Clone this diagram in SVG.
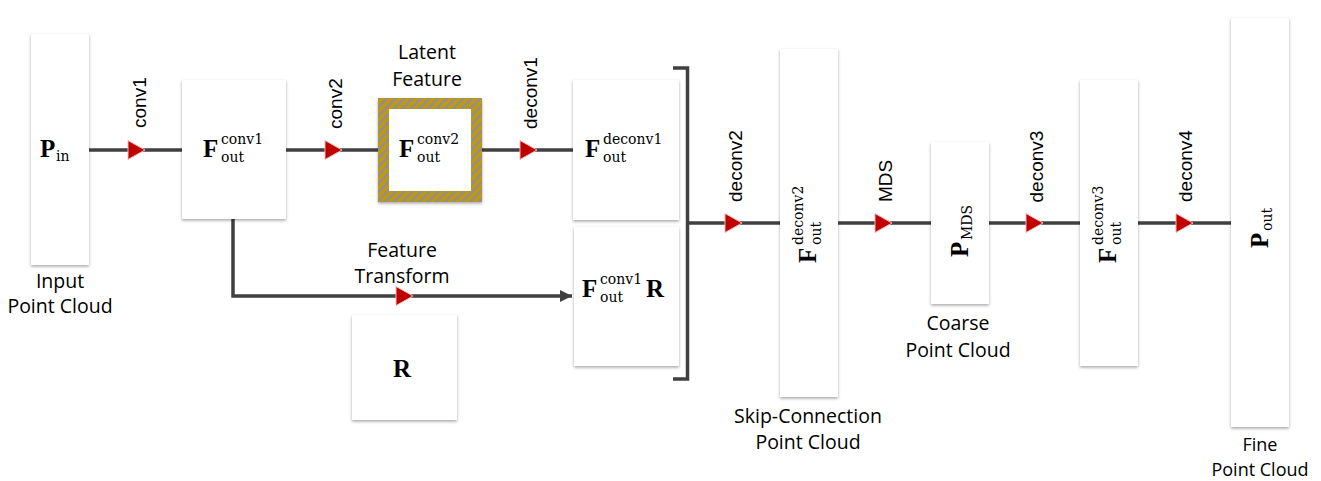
<svg xmlns="http://www.w3.org/2000/svg" xmlns:xlink="http://www.w3.org/1999/xlink" width="1321" height="481" viewBox="0 0 1321 481">
<style>
.box{fill:#fff;filter:url(#sh)}
.ln{fill:none;stroke:#404040;stroke-width:3.5}
.cap{font-family:"Open Sans","Liberation Sans",sans-serif;font-size:19.5px;fill:#000;text-anchor:middle}
.lbl{font-family:"Liberation Sans",Arial,sans-serif;font-size:19px;fill:#000}
.mb{font-family:"Liberation Serif","DejaVu Serif",serif;font-weight:bold;font-size:25px;fill:#000}
.ms{font-family:"DejaVu Serif","Liberation Serif",serif;font-size:14px;fill:#000}
.tri{fill:#c00000;stroke:#f2b8b8;stroke-width:1}
</style>
<defs>
<filter id="sh" x="-20%" y="-20%" width="140%" height="140%">
<feDropShadow dx="0" dy="1.5" stdDeviation="1.5" flood-color="#000" flood-opacity="0.35"/>
</filter>
<pattern id="hatch" patternUnits="userSpaceOnUse" width="6" height="6" patternTransform="rotate(45)">
<rect width="6" height="6" fill="#c4980c"/>
<rect width="2.5" height="6" fill="#8f8f8f"/>
</pattern>
<polygon id="tri" class="tri" points="0,-9.5 17,0 0,9.5"/>
<marker id="ah" markerWidth="12" markerHeight="12" refX="10" refY="5" orient="auto" markerUnits="userSpaceOnUse" viewBox="0 0 10 10">
<path d="M0,0 L10,5 L0,10 Z" fill="#404040"/>
</marker>
</defs>
<rect width="1321" height="481" fill="#fff"/>

<g id="connectors">
<line class="ln" x1="89" y1="150" x2="182" y2="150"/>
<line class="ln" x1="286" y1="150" x2="378" y2="150"/>
<line class="ln" x1="482" y1="150" x2="573" y2="150"/>
<path class="ln" d="M233,219 V296 H572" marker-end="url(#ah)"/>
<path class="ln" d="M673,68 H687.5 V379 H673"/>
<line class="ln" x1="687.5" y1="223" x2="780" y2="223"/>
<line class="ln" x1="838" y1="223" x2="931" y2="223"/>
<line class="ln" x1="989" y1="223" x2="1080" y2="223"/>
<line class="ln" x1="1138" y1="223" x2="1231" y2="223"/>
<use xlink:href="#tri" x="128" y="150"/>
<use xlink:href="#tri" x="325" y="150"/>
<use xlink:href="#tri" x="520" y="150"/>
<use xlink:href="#tri" x="396" y="296"/>
<use xlink:href="#tri" x="725" y="223"/>
<use xlink:href="#tri" x="875" y="223"/>
<use xlink:href="#tri" x="1026" y="223"/>
<use xlink:href="#tri" x="1176" y="223"/>
<text class="lbl" transform="translate(146,128) rotate(-90)">conv1</text>
<text class="lbl" transform="translate(341.5,129) rotate(-90)">conv2</text>
<text class="lbl" transform="translate(536.5,129) rotate(-90)">deconv1</text>
<text class="lbl" transform="translate(742,202) rotate(-90)">deconv2</text>
<text class="lbl" transform="translate(891.5,202) rotate(-90)">MDS</text>
<text class="lbl" transform="translate(1042.5,202.5) rotate(-90)">deconv3</text>
<text class="lbl" transform="translate(1191.5,202) rotate(-90)">deconv4</text>
<text class="cap" x="402" y="257">Feature</text>
<text class="cap" x="402" y="283">Transform</text>
</g>

<g id="node-pin">
<rect class="box" x="31" y="34" width="58" height="231"/>
<text class="mb" x="40" y="157">P</text>
<text class="ms" x="56" y="161">in</text>
<text class="cap" x="60" y="288">Input</text>
<text class="cap" x="60" y="313">Point Cloud</text>
</g>

<g id="node-fconv1">
<rect class="box" x="182" y="80" width="104" height="139"/>
<text class="mb" x="203" y="157">F</text>
<text class="ms" x="221" y="144">conv1</text>
<text class="ms" x="221" y="162">out</text>
</g>

<g id="node-latent">
<rect x="378" y="98" width="104" height="104" fill="url(#hatch)" filter="url(#sh)"/>
<rect x="389" y="109" width="82" height="82" fill="#fff"/>
<text class="mb" x="399" y="157">F</text>
<text class="ms" x="417" y="144">conv2</text>
<text class="ms" x="417" y="162">out</text>
<text class="cap" x="427" y="59">Latent</text>
<text class="cap" x="427" y="86">Feature</text>
</g>

<g id="node-fdeconv1">
<rect class="box" x="573" y="80" width="106" height="140"/>
<text class="mb" x="585" y="157">F</text>
<text class="ms" x="603" y="144">deconv1</text>
<text class="ms" x="603" y="162">out</text>
</g>

<g id="node-fr">
<rect class="box" x="574" y="227" width="105" height="139"/>
<text class="mb" x="582" y="297">F</text>
<text class="ms" x="600" y="284">conv1</text>
<text class="ms" x="600" y="302">out</text>
<text class="mb" x="646" y="297">R</text>
</g>

<g id="node-r">
<rect class="box" x="352" y="315" width="105" height="105"/>
<text class="mb" x="393" y="377">R</text>
</g>

<g id="node-fdeconv2">
<rect class="box" x="780" y="49" width="58" height="348"/>
<g transform="translate(809,223) rotate(-90)">
<text class="mb" x="-40" y="7">F</text>
<text class="ms" x="-22" y="-6">deconv2</text>
<text class="ms" x="-22" y="12">out</text>
</g>
<text class="cap" x="808" y="423">Skip-Connection</text>
<text class="cap" x="808" y="449">Point Cloud</text>
</g>

<g id="node-pmds">
<rect class="box" x="931" y="142" width="58" height="162"/>
<g transform="translate(960,223) rotate(-90)">
<text class="mb" x="-34" y="8">P</text>
<text class="ms" x="-17" y="12" font-size="15">MDS</text>
</g>
<text class="cap" x="958" y="330">Coarse</text>
<text class="cap" x="958" y="357">Point Cloud</text>
</g>

<g id="node-fdeconv3">
<rect class="box" x="1080" y="80" width="58" height="286"/>
<g transform="translate(1109,223) rotate(-90)">
<text class="mb" x="-40" y="7">F</text>
<text class="ms" x="-22" y="-6">deconv3</text>
<text class="ms" x="-22" y="12">out</text>
</g>
</g>

<g id="node-pout">
<rect class="box" x="1231" y="18" width="58" height="409"/>
<g transform="translate(1260,223) rotate(-90)">
<text class="mb" x="-25" y="8">P</text>
<text class="ms" x="-8" y="12">out</text>
</g>
<text class="cap" x="1260" y="451" font-size="18" style="font-size:18px">Fine</text>
<text class="cap" x="1260" y="476" style="font-size:18px">Point Cloud</text>
</g>
</svg>
